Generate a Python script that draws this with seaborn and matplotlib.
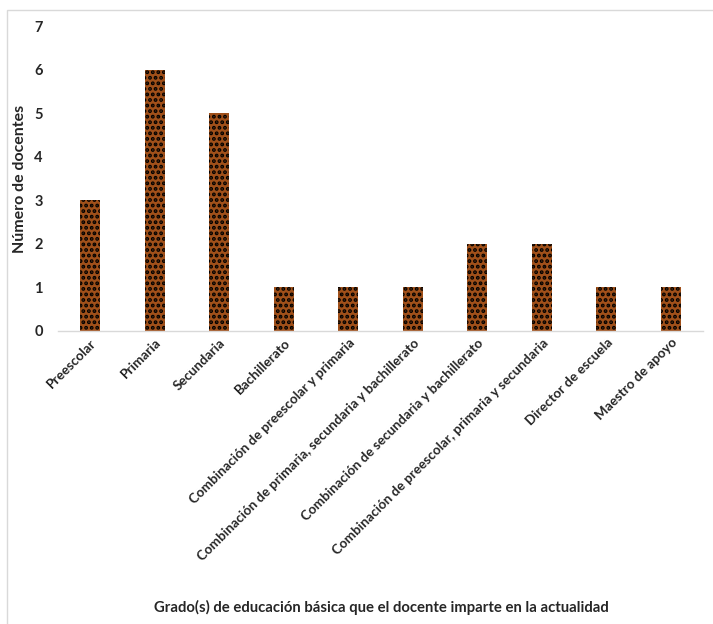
import matplotlib
matplotlib.use("Agg")
import matplotlib.pyplot as plt
import seaborn as sns
import pandas as pd
from matplotlib.patches import Rectangle

categorias = [
    "Preescolar",
    "Primaria",
    "Secundaria",
    "Bachillerato",
    "Combinación de preescolar y primaria",
    "Combinación de primaria, secundaria y bachillerato",
    "Combinación de secundaria y bachillerato",
    "Combinación de preescolar, primaria y secundaria",
    "Director de escuela",
    "Maestro de apoyo",
]
docentes = [3, 6, 5, 1, 1, 1, 2, 2, 1, 1]
y_ticks = [0, 1, 2, 3, 4, 5, 6, 7]

df = pd.DataFrame({"grado": categorias, "n": docentes})

sns.set_theme(style="white")
plt.rcParams["font.family"] = ["Lato", "DejaVu Sans"]
plt.rcParams["hatch.linewidth"] = 1.9

fig = plt.figure(figsize=(7.13, 6.24), dpi=100)
ax = fig.add_axes([0.0813, 0.4696, 0.9047, 0.4880])

sns.barplot(data=df, x="grado", y="n", ax=ax, color="#A0501A",
            width=0.31, saturation=1)
# dotted fill: black hatch dots over the brown face
for p in ax.patches:
    p.set_edgecolor("black")
    p.set_linewidth(0)
    p.set_hatch("...")

ax.set_ylim(0, 7)
ax.set_xlim(-0.5, len(categorias) - 0.5)
ax.set_yticks(y_ticks)
ax.set_yticklabels([str(t) for t in y_ticks], fontsize=10.5,
                   fontweight="bold", color="#262626")
ax.tick_params(axis="y", length=0, pad=11)
ax.tick_params(axis="x", length=0, pad=4)
ax.set_xticks(range(len(categorias)))
ax.set_xticklabels(categorias, rotation=45, ha="right",
                   rotation_mode="anchor", fontsize=9.7,
                   fontweight="bold", color="#262626")

for side in ["top", "right", "left"]:
    ax.spines[side].set_visible(False)
ax.spines["bottom"].set_color("#D9D9D9")
ax.spines["bottom"].set_linewidth(1.0)

ax.set_ylabel("Número de docentes", fontsize=11.5, fontweight="bold",
              color="#262626")
ax.yaxis.set_label_coords(-0.048, 0.5)
ax.set_xlabel("")
fig.text(0.535, 0.027, "Grado(s) de educación básica que el docente imparte en la actualidad",
         ha="center", va="center", fontsize=10.7, fontweight="bold", color="#262626")

# chart area frame
fig.add_artist(Rectangle((7 / 713, -0.1), 1.1, (624 - 10) / 624 + 0.1,
                         transform=fig.transFigure, fill=False,
                         edgecolor="#D9D9D9", linewidth=1.0))

fig.savefig("out.png", dpi=100)
